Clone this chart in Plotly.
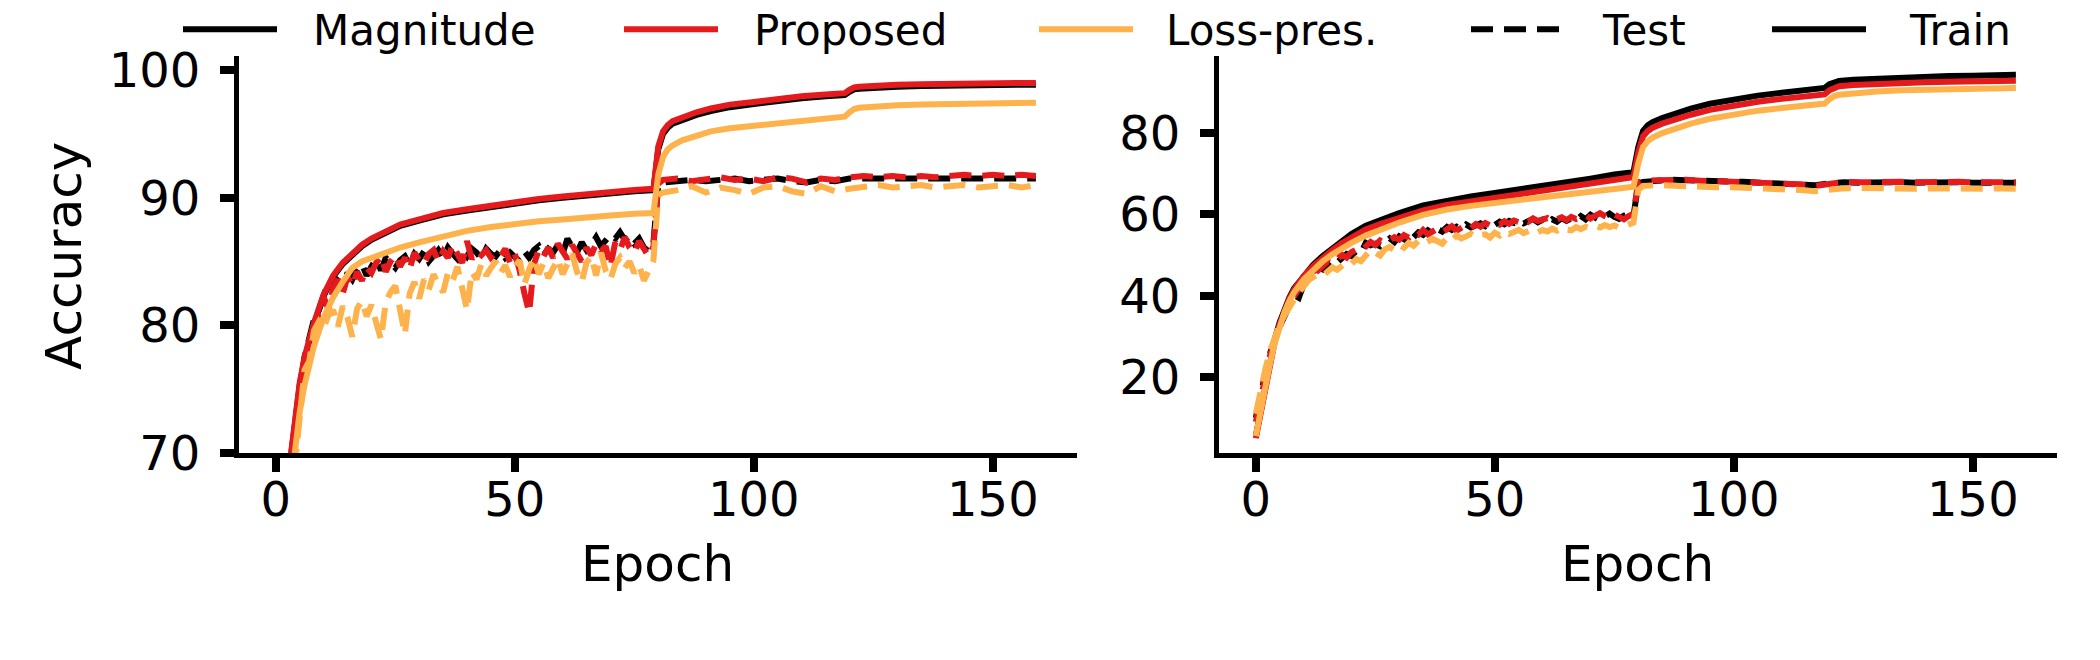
import plotly.graph_objects as go

EPOCH_TRAIN = [0, 1, 2, 3, 4, 5, 6, 7, 8, 10, 12, 14, 16, 18, 20, 23, 26, 30, 35, 40,
               45, 50, 55, 60, 65, 70, 75, 79, 80, 81, 82, 83, 85, 88, 91, 95, 100, 105,
               110, 115, 119, 120, 121, 122, 125, 130, 135, 140, 145, 150, 155, 159]
# epochs for the (noisy) test curves: every epoch up to 80, every third after
EPOCH_TEST = list(range(0, 81)) + list(range(81, 160, 3))

METHODS = ["Magnitude", "Proposed", "Loss-pres."]

# ---- left panel ----
left_train_magnitude = [45.0, 60.0, 66.0, 69.2, 72.6, 75.3, 77.3, 78.9, 80.1,
                        82.3, 83.8, 84.8, 85.5, 86.2, 86.7,
                        87.3, 87.8, 88.2, 88.7, 89.0, 89.3, 89.6, 89.8, 90.0, 90.2, 90.35, 90.5, 90.6,
                        93.8, 95.0, 95.5, 95.8, 96.1, 96.5, 96.8, 97.1,
                        97.35, 97.6, 97.8, 97.95, 98.05,
                        98.3, 98.5, 98.55, 98.65, 98.7, 98.75, 98.8, 98.8, 98.85, 98.85, 98.85]
left_train_proposed = [44.0, 59.5, 66.0, 69.4, 72.9, 75.5, 77.5, 79.0, 80.2,
                       82.4, 83.9, 84.9, 85.6, 86.3, 86.8,
                       87.4, 87.9, 88.3, 88.8, 89.1, 89.4, 89.7, 89.9, 90.1, 90.3, 90.45, 90.6, 90.7,
                       94.0, 95.2, 95.7, 96.0, 96.3, 96.7, 97.0, 97.3,
                       97.5, 97.75, 97.95, 98.1, 98.2,
                       98.45, 98.65, 98.7, 98.8, 98.85, 98.9, 98.95, 98.95, 99.0, 99.0, 99.0]
left_train_losspres = [40.0, 56.0, 63.0, 67.0, 70.5, 73.2, 75.3, 77.0, 78.4,
                       80.6, 82.2, 83.4, 84.5, 85.0, 85.3,
                       85.7, 86.1, 86.5, 87.0, 87.4, 87.7, 87.95, 88.15, 88.3, 88.5, 88.6, 88.75, 88.8,
                       91.8, 93.2, 93.8, 94.1, 94.5, 94.9, 95.2, 95.45,
                       95.65, 95.85, 96.0, 96.2, 96.35,
                       96.7, 96.95, 97.05, 97.15, 97.25, 97.3, 97.35, 97.4, 97.45, 97.45, 97.45]

left_test_magnitude = [40.0, 52.0, 62.0, 67.0, 71.0, 74.5, 77.5, 79.0, 80.5, 81.2,
                       82.3, 83.4, 82.8, 83.5, 83.2, 84.1, 83.6, 84.4, 84.8, 83.9,
                       84.6, 85.2, 84.3, 85.3, 84.9, 84.5, 85.1, 85.4, 84.7, 85.6,
                       85.2, 85.8, 85.0, 85.5, 85.9, 85.3, 86.1, 85.6, 85.2, 85.9,
                       85.4, 86.0, 85.7, 85.2, 86.0, 85.6, 85.4, 85.9, 85.3, 85.7,
                       85.4, 85.0, 85.8, 85.3, 85.9, 86.2, 85.5, 86.0, 85.7, 86.3,
                       85.6, 86.8, 86.1, 85.7, 86.5, 85.9, 86.3, 86.9, 86.2, 86.6,
                       87.1, 86.8, 87.3, 86.7, 87.0, 86.4, 86.8, 86.1, 85.8, 86.5,
                       91.0,
                       91.2, 91.3, 91.4, 91.3, 91.4, 91.5, 91.3, 91.4, 91.5, 91.3,
                       91.2, 91.4, 91.3, 91.5, 91.5, 91.6, 91.5, 91.6, 91.5, 91.6,
                       91.6, 91.5, 91.6, 91.6, 91.5, 91.6, 91.5]
left_test_proposed = [38.0, 50.0, 60.0, 66.0, 70.5, 74.0, 76.8, 78.5, 79.8, 81.0,
                      82.2, 81.3, 82.9, 83.6, 82.5, 83.8, 83.1, 84.2, 83.5, 84.5,
                      84.1, 84.9, 85.4, 84.2, 85.0, 85.5, 84.6, 85.3, 84.4, 85.7,
                      85.1, 84.8, 85.6, 85.9, 85.0, 85.8, 85.3, 86.3, 85.5, 84.9,
                      86.6, 85.2, 85.8, 85.5, 85.9, 85.3, 85.7, 85.4, 86.0, 84.9,
                      85.6, 84.3, 82.5, 81.0, 84.8, 85.9, 85.4, 86.1, 85.3, 86.4,
                      85.8, 85.2, 86.3, 85.6, 85.0, 86.1, 85.5, 86.4, 85.8, 86.2,
                      84.6, 86.5, 85.9, 86.9, 86.1, 85.7, 86.6, 86.0, 85.4, 86.2,
                      91.1,
                      91.4, 91.5, 91.3, 91.5, 91.6, 91.4, 91.5, 91.3, 91.6, 91.5,
                      91.2, 91.5, 91.4, 91.6, 91.7, 91.6, 91.7, 91.6, 91.7, 91.6,
                      91.7, 91.8, 91.7, 91.8, 91.7, 91.8, 91.7]
left_test_losspres = [35.0, 48.0, 57.0, 64.0, 69.0, 72.5, 76.5, 77.2, 79.6, 80.3,
                      79.8, 80.8, 81.2, 79.9, 81.5, 80.6, 79.1, 81.3, 81.9, 80.7,
                      81.6, 80.2, 78.9, 81.8, 82.6, 83.1, 81.4, 79.3, 82.5, 83.4,
                      82.1, 83.6, 82.8, 84.0, 83.2, 82.6, 84.1, 83.5, 84.6, 83.0,
                      81.2, 84.2, 83.6, 84.8, 83.9, 84.5, 85.0, 84.1, 84.7, 83.8,
                      84.6, 85.1, 83.2, 84.4, 85.3, 84.0, 84.9, 83.7, 84.5, 85.2,
                      84.0, 84.8, 85.6, 84.2, 83.4, 84.9, 85.4, 83.9, 85.7, 84.3,
                      83.6, 84.8, 85.3, 84.5, 85.0, 84.1, 84.7, 83.5, 84.2, 85.1,
                      90.2,
                      90.4, 90.6, 90.9, 90.4, 90.8, 90.6, 90.3, 90.8, 90.9, 90.5,
                      90.3, 90.9, 90.5, 90.7, 90.9, 91.0, 90.8, 90.9, 91.0, 90.8,
                      90.9, 91.0, 90.8, 90.9, 91.0, 90.8, 91.0]

# ---- right panel ----
right_train_magnitude = [5.5, 12.0, 18.5, 24.5, 29.5, 33.5, 36.8, 39.5, 41.8,
                         45.0, 47.6, 49.8, 51.7, 53.6, 55.2,
                         57.2, 58.6, 60.3, 62.2, 63.4, 64.4, 65.3, 66.1, 66.9, 67.8, 68.8, 69.8, 70.4,
                         76.5, 80.5, 81.9, 82.7, 83.7, 85.0, 86.0, 87.2,
                         88.3, 89.2, 89.9, 90.6, 91.1,
                         92.0, 92.6, 92.8, 93.1, 93.4, 93.7, 93.9, 94.0, 94.1, 94.2, 94.3]
right_train_proposed = [5.0, 11.5, 18.0, 24.0, 29.0, 33.0, 36.5, 39.2, 41.5,
                        44.8, 47.3, 49.4, 51.2, 52.9, 54.4,
                        56.3, 57.6, 59.2, 61.0, 62.3, 63.2, 64.0, 64.8, 65.7, 66.6, 67.6, 68.6, 69.2,
                        75.2, 79.2, 80.5, 81.3, 82.3, 83.5, 84.5, 85.7,
                        86.8, 87.7, 88.4, 89.0, 89.5,
                        90.5, 91.2, 91.5, 91.8, 92.1, 92.3, 92.5, 92.6, 92.7, 92.8, 92.85]
right_train_losspres = [5.5, 12.0, 18.0, 23.5, 28.5, 32.5, 36.0, 38.7, 40.8,
                        44.0, 46.5, 48.5, 50.2, 51.7, 53.0,
                        54.8, 56.3, 58.0, 59.9, 61.2, 62.1, 62.9, 63.6, 64.2, 64.9, 65.7, 66.4, 66.8,
                        72.5, 76.6, 78.0, 78.9, 80.0, 81.3, 82.3, 83.5,
                        84.6, 85.5, 86.15, 86.8, 87.25,
                        88.3, 89.1, 89.4, 89.8, 90.2, 90.5, 90.7, 90.85, 90.95, 91.05, 91.1]

right_test_magnitude = [10.0, 16.0, 21.0, 26.0, 29.5, 32.5, 35.0, 37.8, 40.2, 39.5,
                        42.8, 44.9, 46.1, 47.0, 46.5, 47.8, 48.9, 48.2, 49.5, 50.3,
                        49.8, 51.0, 50.6, 53.0, 52.4, 52.8, 52.2, 53.4, 54.1, 53.2,
                        54.6, 53.9, 55.2, 54.4, 55.6, 55.0, 56.1, 55.3, 56.4, 55.8,
                        56.9, 56.2, 57.0, 56.4, 57.5, 56.8, 57.3, 57.8, 57.1, 57.9,
                        57.4, 58.2, 57.6, 58.4, 57.9, 58.6, 57.8, 58.3, 58.9, 58.1,
                        58.7, 57.9, 58.8, 58.2, 59.1, 58.4, 59.0, 58.5, 59.6, 58.8,
                        59.9, 59.2, 58.6, 59.5, 60.2, 59.4, 58.9, 59.7, 60.1, 59.5,
                        67.6,
                        68.0, 68.3, 68.5, 68.4, 68.2, 68.3, 68.1, 68.0, 67.9, 67.8,
                        67.6, 67.5, 67.2, 67.6, 67.9, 67.8, 67.9, 67.8, 67.9, 67.8,
                        67.9, 67.8, 67.9, 67.8, 67.9, 67.8, 67.8]
right_test_proposed = [9.0, 15.0, 20.5, 25.5, 29.0, 32.8, 35.5, 38.2, 39.8, 41.5,
                       43.6, 45.2, 46.8, 46.2, 47.5, 48.4, 47.9, 49.2, 50.1, 49.4,
                       50.7, 51.3, 50.9, 52.1, 53.2, 52.5, 53.6, 53.0, 53.9, 54.4,
                       53.8, 54.9, 54.3, 55.5, 55.0, 56.2, 55.1, 55.8, 56.5, 55.6,
                       56.3, 57.1, 56.0, 56.8, 57.4, 56.6, 57.6, 57.0, 57.9, 57.3,
                       58.0, 57.5, 58.3, 57.7, 58.5, 58.1, 58.8, 58.2, 59.0, 58.4,
                       58.6, 59.1, 58.3, 58.9, 59.3, 58.6, 59.4, 58.9, 59.2, 59.8,
                       59.0, 59.5, 60.3, 59.6, 59.1, 60.0, 59.4, 58.8, 59.6, 60.2,
                       67.9,
                       68.2, 68.4, 68.6, 68.5, 68.3, 68.2, 68.2, 68.0, 68.0, 67.8,
                       67.7, 67.4, 67.0, 67.5, 68.0, 67.9, 68.0, 67.9, 68.0, 67.9,
                       68.0, 67.9, 68.0, 67.9, 68.0, 67.9, 67.9]
right_test_losspres = [11.0, 17.0, 22.0, 26.5, 30.0, 33.0, 35.2, 37.5, 39.0, 40.8,
                       42.5, 43.8, 44.6, 45.3, 44.9, 46.2, 47.0, 46.4, 47.6, 48.3,
                       47.8, 49.0, 48.5, 50.1, 51.3, 50.6, 49.9, 51.4, 52.0, 51.2,
                       52.5, 51.8, 53.0, 52.3, 53.5, 52.7, 53.2, 54.0, 53.4, 52.8,
                       54.3, 53.6, 54.8, 54.1, 54.6, 55.2, 54.4, 55.0, 55.1, 54.3,
                       55.5, 54.8, 55.9, 55.2, 55.7, 56.2, 55.4, 55.9, 56.4, 55.6,
                       56.2, 55.8, 56.5, 56.0, 56.8, 56.3, 56.1, 56.9, 56.4, 57.0,
                       56.6, 57.2, 56.8, 57.4, 56.9, 57.3, 56.7, 57.1, 57.6, 58.0,
                       66.0,
                       67.0, 67.2, 67.0, 66.9, 66.8, 66.7, 66.7, 66.6, 66.5, 66.3,
                       66.2, 66.0, 65.7, 66.1, 66.4, 66.5, 66.4, 66.5, 66.4, 66.3,
                       66.4, 66.3, 66.4, 66.3, 66.3, 66.4, 66.3]

LEFT_YTICKS = [70, 80, 90, 100]
RIGHT_YTICKS = [20, 40, 60, 80]
XTICKS = [0, 50, 100, 150]

COLORS = {"Magnitude": "#000000", "Proposed": "#e41a1c", "Loss-pres.": "#feb24c"}
DASH = "22px,11px"
LW = 6
FONT = "DejaVu Sans"
W, H = 2100, 660


def px_x(p):
    return p / W


def px_y(p):
    return 1 - p / H


def add_panel(fig, xa, ya, train, test):
    """Draws train (solid) and test (dashed) curves of the three methods on one panel."""
    for m in METHODS:
        fig.add_trace(go.Scatter(x=EPOCH_TRAIN, y=train[m], mode="lines", xaxis=xa, yaxis=ya,
                                 line=dict(color=COLORS[m], width=LW), showlegend=False))
        fig.add_trace(go.Scatter(x=EPOCH_TEST, y=test[m], mode="lines", xaxis=xa, yaxis=ya,
                                 line=dict(color=COLORS[m], width=LW, dash=DASH), showlegend=False))


fig = go.Figure()
add_panel(fig, "x", "y",
          {"Magnitude": left_train_magnitude, "Proposed": left_train_proposed, "Loss-pres.": left_train_losspres},
          {"Magnitude": left_test_magnitude, "Proposed": left_test_proposed, "Loss-pres.": left_test_losspres})
add_panel(fig, "x2", "y2",
          {"Magnitude": right_train_magnitude, "Proposed": right_train_proposed, "Loss-pres.": right_train_losspres},
          {"Magnitude": right_test_magnitude, "Proposed": right_test_proposed, "Loss-pres.": right_test_losspres})

axis_style = dict(showline=True, linewidth=5, linecolor="black", ticks="outside", ticklen=14,
                  tickwidth=8, tickcolor="black", showgrid=False, zeroline=False,
                  tickfont=dict(family=FONT, size=48, color="black"))
x_style = dict(axis_style, ticklabelstandoff=-13)
y_style = dict(axis_style, ticklabelstandoff=10)

ydom = [px_y(469), px_y(46)]
fig.update_layout(
    width=W, height=H, margin=dict(l=0, r=0, t=0, b=0),
    paper_bgcolor="white", plot_bgcolor="white", showlegend=False,
    font=dict(family=FONT, color="black"),
    xaxis=dict(domain=[px_x(239), px_x(1077)], range=[-7.7, 167.6], tickvals=XTICKS, anchor="y", **x_style),
    yaxis=dict(domain=ydom, range=[70, 101.1], tickvals=LEFT_YTICKS, anchor="x", **y_style),
    xaxis2=dict(domain=[px_x(1219), px_x(2057)], range=[-7.7, 167.6], tickvals=XTICKS, anchor="y2", **x_style),
    yaxis2=dict(domain=ydom, range=[1.4, 98.9], tickvals=RIGHT_YTICKS, anchor="x2", **y_style),
)

# axis titles
fig.add_annotation(text="Epoch", x=px_x(657), y=px_y(588), xref="paper", yref="paper",
                   xanchor="center", yanchor="middle", showarrow=False, font=dict(size=50))
fig.add_annotation(text="Epoch", x=px_x(1637), y=px_y(588), xref="paper", yref="paper",
                   xanchor="center", yanchor="middle", showarrow=False, font=dict(size=50))
fig.add_annotation(text="Accuracy", x=px_x(64), y=px_y(259), xref="paper", yref="paper", textangle=-90,
                   xanchor="center", yanchor="middle", showarrow=False, font=dict(size=50))

# legend row drawn by hand (matplotlib-like long handles)
legend_items = [("Magnitude", COLORS["Magnitude"], "solid", 183, 311),
                ("Proposed", COLORS["Proposed"], "solid", 624, 752),
                ("Loss-pres.", COLORS["Loss-pres."], "solid", 1039, 1164),
                ("Test", "#000000", DASH, 1471, 1600),
                ("Train", "#000000", "solid", 1772, 1907)]
for label, color, dash, x0, tx in legend_items:
    fig.add_shape(type="line", xref="paper", yref="paper", x0=px_x(x0), x1=px_x(x0 + 94),
                  y0=px_y(17.3), y1=px_y(17.3), line=dict(color=color, width=LW, dash=dash))
    fig.add_annotation(text=label, x=px_x(tx), y=px_y(18.5), xref="paper", yref="paper",
                       xanchor="left", yanchor="middle", showarrow=False, font=dict(size=42))

fig.write_html("out.html", config={"displayModeBar": False},
               post_script="document.body.style.margin='0';document.body.style.overflow='hidden';")
